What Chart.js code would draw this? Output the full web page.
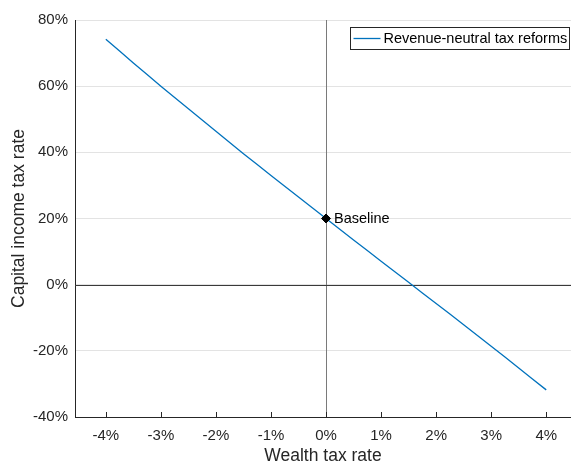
<!DOCTYPE html>
<html>
<head>
<meta charset="utf-8">
<script src="https://cdn.jsdelivr.net/npm/chart.js@4.4.1/dist/chart.umd.min.js"></script>
<style>
html,body{margin:0;padding:0;background:#fff;}
#wrap{position:relative;width:571px;height:462px;}
</style>
</head>
<body>
<div id="wrap"><canvas id="c" width="571" height="462"></canvas></div>
<script>
// ---- data ----
const wealthTax  = [-4, -3.5, -3, -2.5, -2, -1.5, -1, -0.5, 0, 0.5, 1, 1.5, 2, 2.5, 3, 3.5, 4];
const capitalTax = [74.2, 67.0, 60.0, 53.2, 46.4, 39.6, 33.0, 26.5, 20.0, 13.5, 7.1, 0.7, -5.7, -12.1, -18.6, -25.2, -31.8];
const baselineX = [0];
const baselineY = [20];
const baselineLabel = ['Baseline'];
const xTickValues = [-4, -3, -2, -1, 0, 1, 2, 3, 4];
const yTickValues = [-40, -20, 0, 20, 40, 60, 80];
const seriesLabel = 'Revenue-neutral tax reforms';
const xTitle = 'Wealth tax rate';
const yTitle = 'Capital income tax rate';

const FONT = '"Liberation Sans", Arial, Helvetica, sans-serif';
const TXT = '#262626';
const LINE = '#0072BD';

const overlay = {
  id: 'overlay',
  beforeDatasetsDraw(chart) {
    const {ctx, chartArea: a, scales: {x, y}} = chart;
    ctx.save();
    ctx.lineWidth = 1;
    const x0 = Math.round(x.getPixelForValue(0)) + 0.5;
    const y0 = Math.round(y.getPixelForValue(0)) + 0.5;
    ctx.strokeStyle = '#7a7a7a';
    ctx.beginPath();
    ctx.moveTo(x0, a.top); ctx.lineTo(x0, a.bottom);
    ctx.stroke();
    ctx.strokeStyle = '#3a3a3a';
    ctx.beginPath();
    ctx.moveTo(a.left, y0); ctx.lineTo(a.right, y0);
    ctx.stroke();
    ctx.restore();
  },
  afterDraw(chart) {
    const {ctx, chartArea: a, scales: {x, y}} = chart;
    ctx.save();
    // inward x ticks
    ctx.strokeStyle = TXT;
    ctx.lineWidth = 1;
    ctx.beginPath();
    xTickValues.forEach(v => {
      const px = Math.round(x.getPixelForValue(v)) + 0.5;
      ctx.moveTo(px, a.bottom); ctx.lineTo(px, a.bottom - 5);
    });
    ctx.stroke();
    // baseline label
    ctx.fillStyle = '#000';
    ctx.font = '14.5px ' + FONT;
    ctx.textBaseline = 'middle';
    ctx.textAlign = 'left';
    baselineLabel.forEach((t, i) => {
      ctx.fillText(t, x.getPixelForValue(baselineX[i]) + 8, y.getPixelForValue(baselineY[i]) + 0.5);
    });
    // legend box
    const bx = 350.5, by = 27.5, bw = 219, bh = 22;
    ctx.fillStyle = '#fff';
    ctx.fillRect(bx, by, bw, bh);
    ctx.strokeStyle = '#262626';
    ctx.lineWidth = 1;
    ctx.strokeRect(bx, by, bw, bh);
    ctx.strokeStyle = LINE;
    ctx.lineWidth = 1.3;
    ctx.beginPath();
    ctx.moveTo(bx + 3, by + bh / 2); ctx.lineTo(bx + 30, by + bh / 2);
    ctx.stroke();
    ctx.fillStyle = '#000';
    ctx.font = '14.5px ' + FONT;
    ctx.fillText(seriesLabel, bx + 33, by + bh / 2 + 0.5);
    ctx.restore();
  }
};

new Chart(document.getElementById('c'), {
  type: 'line',
  data: {
    datasets: [
      {
        label: seriesLabel,
        data: wealthTax.map((v, i) => ({x: v, y: capitalTax[i]})),
        borderColor: LINE,
        borderWidth: 1.3,
        pointRadius: 0,
        fill: false,
        tension: 0.2,
        order: 2
      },
      {
        label: baselineLabel[0],
        type: 'scatter',
        data: baselineX.map((v, i) => ({x: v, y: baselineY[i]})),
        pointStyle: 'rectRot',
        pointRadius: 4.5,
        backgroundColor: '#000',
        borderColor: '#000',
        borderWidth: 1,
        order: 1
      }
    ]
  },
  options: {
    responsive: false,
    animation: false,
    layout: {autoPadding: false, padding: {top: 20, right: 0, left: 0, bottom: 0}},
    plugins: {legend: {display: false}, tooltip: {enabled: false}},
    scales: {
      x: {
        type: 'linear',
        min: -4.56,
        max: 4.45,
        afterBuildTicks: s => { s.ticks = xTickValues.map(v => ({value: v})); },
        afterFit: s => { s.height = 45; s.paddingRight = 0; s.paddingLeft = 0; },
        grid: {display: false, drawTicks: false},
        border: {display: true, color: '#262626', width: 1},
        ticks: {
          color: TXT,
          font: {family: FONT, size: 15},
          padding: 10,
          maxRotation: 0,
          callback: v => v + '%'
        },
        title: {
          display: true,
          text: xTitle,
          color: TXT,
          font: {family: FONT, size: 17.5},
          padding: {top: 0, bottom: -5}
        }
      },
      y: {
        type: 'linear',
        min: -40,
        max: 80,
        afterBuildTicks: s => { s.ticks = yTickValues.map(v => ({value: v})); },
        afterFit: s => { s.width = 75; },
        grid: {display: true, color: '#e3e3e3', drawTicks: false, lineWidth: 1},
        border: {display: true, color: '#262626', width: 1},
        ticks: {
          color: TXT,
          font: {family: FONT, size: 15},
          padding: 7,
          callback: v => v + '%'
        },
        title: {
          display: true,
          text: yTitle,
          color: TXT,
          font: {family: FONT, size: 17.5},
          padding: {top: 9, bottom: 0}
        }
      }
    }
  },
  plugins: [overlay]
});
</script>
</body>
</html>
